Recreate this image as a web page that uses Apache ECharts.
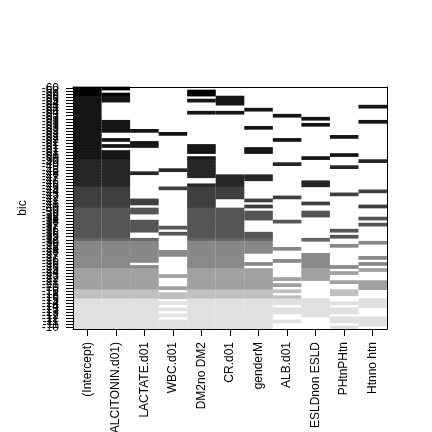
<!DOCTYPE html>
<html><head><meta charset="utf-8">
<script src="https://cdn.jsdelivr.net/npm/echarts@6/dist/echarts.min.js"></script>
<style>html,body{margin:0;padding:0;background:#fff}#c{width:432px;height:432px}</style>
</head><body><div id="c"></div><script>
// Variables (columns of the leaps plot)
const variables = ['(Intercept)','log(PROCALCITONIN.d01)','LACTATE.d01','WBC.d01','DM2no DM2','CR.d01','genderM','ALB.d01','ESLDnon ESLD','PHtnPHtn','Htnno htn'];

// BIC of each model, best (lowest) first = top row
const bic = [
  -60, -58, -56,
  -54.8,-54.5,-54.3,-54.0,-53.8,-53.5,-53.3,-53.1,-52.9,-52.7,-52.5,-52.3,-52.1,-51.9,-51.7,-51.5,-51.2,-51.0,-50.8,-50.5,-50.2,
  -49.6,-49.0,-48.5,-48.0,-47.5,-47.0,-46.5,-46.0,-45.4,
  -44.5,-43.8,-43.0,-42.3,-41.6,-40.9,-40.3,
  -39.6,-39.1,-38.6,-38.1,-37.6,-37.2,-36.7,-36.2,-35.7,-35.2,
  -32.0,
  -29.6,-29.0,-28.4,-27.9,-27.4,-26.9,-26.3,-25.8,-25.3,
  -24.5,-23.8,-23.1,-22.4,-21.7,-21.0,-20.4,
  -19.2,-17.6,-16.0,
  -14.6,-14.1,-13.6,-13.1,-12.6,-12.1,-11.6,-11.1,-10.6,-10.0
];

// For each variable: ranges [from, to] of model rows that include it
const inModels = [
  [[0,79]],
  [[0,0],[2,4],[11,14],[17,17],[19,19],[21,79]],
  [[14,14],[18,19],[28,28],[37,38],[40,41],[44,47],[50,57],[59,79]],
  [[15,15],[27,27],[33,33],[46,46],[48,48],[54,55],[62,62],[66,66],[68,69],[71,71],[73,73],[75,75],[77,79]],
  [[1,2],[4,4],[8,8],[19,21],[23,29],[32,79]],
  [[3,5],[8,8],[29,36],[40,79]],
  [[7,7],[13,13],[20,21],[29,30],[37,37],[39,39],[41,43],[48,54],[58,58],[60,79]],
  [[9,9],[17,17],[25,25],[36,36],[44,44],[53,53],[57,57],[63,63],[65,65],[67,67],[69,71],[73,74],[77,77]],
  [[10,10],[12,12],[23,23],[31,32],[38,38],[41,42],[50,50],[55,63],[70,75]],
  [[16,16],[22,22],[26,26],[35,35],[47,47],[49,49],[52,52],[59,59],[61,61],[64,64],[67,68],[71,71],[73,74],[76,77],[79,79]],
  [[6,6],[11,11],[24,24],[34,34],[39,39],[43,43],[45,45],[51,51],[56,56],[58,58],[60,60],[64,66],[70,72],[76,78]]
];

// Grey scale bins of BIC
const shadeBreaks = [-60,-55,-50,-45,-40,-35,-30,-25,-20,-15,-10];
const shades = ['#000000','#151515','#262626','#3f3f3f','#555555','#666666','#888888','#a0a0a0','#c0c0c0','#e0e0e0'];

const bicLabels = bic.map(v => String(Number(v.toPrecision(2))));
const cells = [];
inModels.forEach((ranges, c) => ranges.forEach(([a, b]) => {
  for (let r = a; r <= b; r++) cells.push([c, r, bic[r]]);
}));
const pieces = shades.map((col, k) => k === shades.length - 1
  ? { gte: shadeBreaks[k], lte: shadeBreaks[k + 1], color: col }
  : { gte: shadeBreaks[k], lt: shadeBreaks[k + 1], color: col });

const FONT = 'Liberation Sans, Arial, Helvetica, sans-serif';
const chart = echarts.init(document.getElementById('c'), null, { renderer: 'canvas' });
chart.setOption({
  animation: false,
  backgroundColor: '#ffffff',
  grid: { left: 73, right: 45, top: 87, bottom: 103, containLabel: false, outerBoundsMode: 'none' },
  visualMap: { type: 'piecewise', show: false, dimension: 2, pieces: pieces, seriesIndex: 0 },
  xAxis: [{
    type: 'category', data: variables, position: 'bottom', z: 10,
    axisLine: { show: true, lineStyle: { color: '#000', width: 1 } },
    axisTick: { show: true, alignWithLabel: true, interval: 0, length: 7, lineStyle: { color: '#000' } },
    axisLabel: { rotate: 90, interval: 0, margin: 13, fontSize: 12, color: '#000', fontFamily: FONT },
    splitLine: { show: false }
  }, {
    type: 'category', data: variables, position: 'top', z: 10,
    axisLine: { show: true, lineStyle: { color: '#000', width: 1 } },
    axisTick: { show: false }, axisLabel: { show: false }, splitLine: { show: false }
  }],
  yAxis: [{
    type: 'category', data: bicLabels, inverse: true, position: 'left', z: 10,
    name: 'bic', nameLocation: 'middle', nameGap: 44, nameRotate: 90,
    nameTextStyle: { fontSize: 12, color: '#000', fontFamily: FONT },
    axisLine: { show: true, lineStyle: { color: '#000', width: 1 } },
    axisTick: { show: true, alignWithLabel: true, interval: 0, length: 7, lineStyle: { color: '#000' } },
    axisLabel: { interval: 0, margin: 14, fontSize: 12, color: '#000', fontFamily: FONT },
    splitLine: { show: false }
  }, {
    type: 'category', data: bicLabels, inverse: true, position: 'right', z: 10,
    axisLine: { show: true, lineStyle: { color: '#000', width: 1 } },
    axisTick: { show: false }, axisLabel: { show: false }, splitLine: { show: false }
  }],
  series: [{
    type: 'custom', xAxisIndex: 0, yAxisIndex: 0, data: cells,
    encode: { x: 0, y: 1 },
    renderItem: function (params, api) {
      const p = api.coord([api.value(0), api.value(1)]);
      const s = api.size([1, 1]);
      return {
        type: 'rect',
        shape: { x: p[0] - s[0] / 2, y: p[1] - s[1] / 2 - 0.35, width: s[0], height: s[1] + 0.7 },
        style: { fill: api.visual('color') }
      };
    },
    emphasis: { disabled: true }
  }]
});
</script></body></html>
